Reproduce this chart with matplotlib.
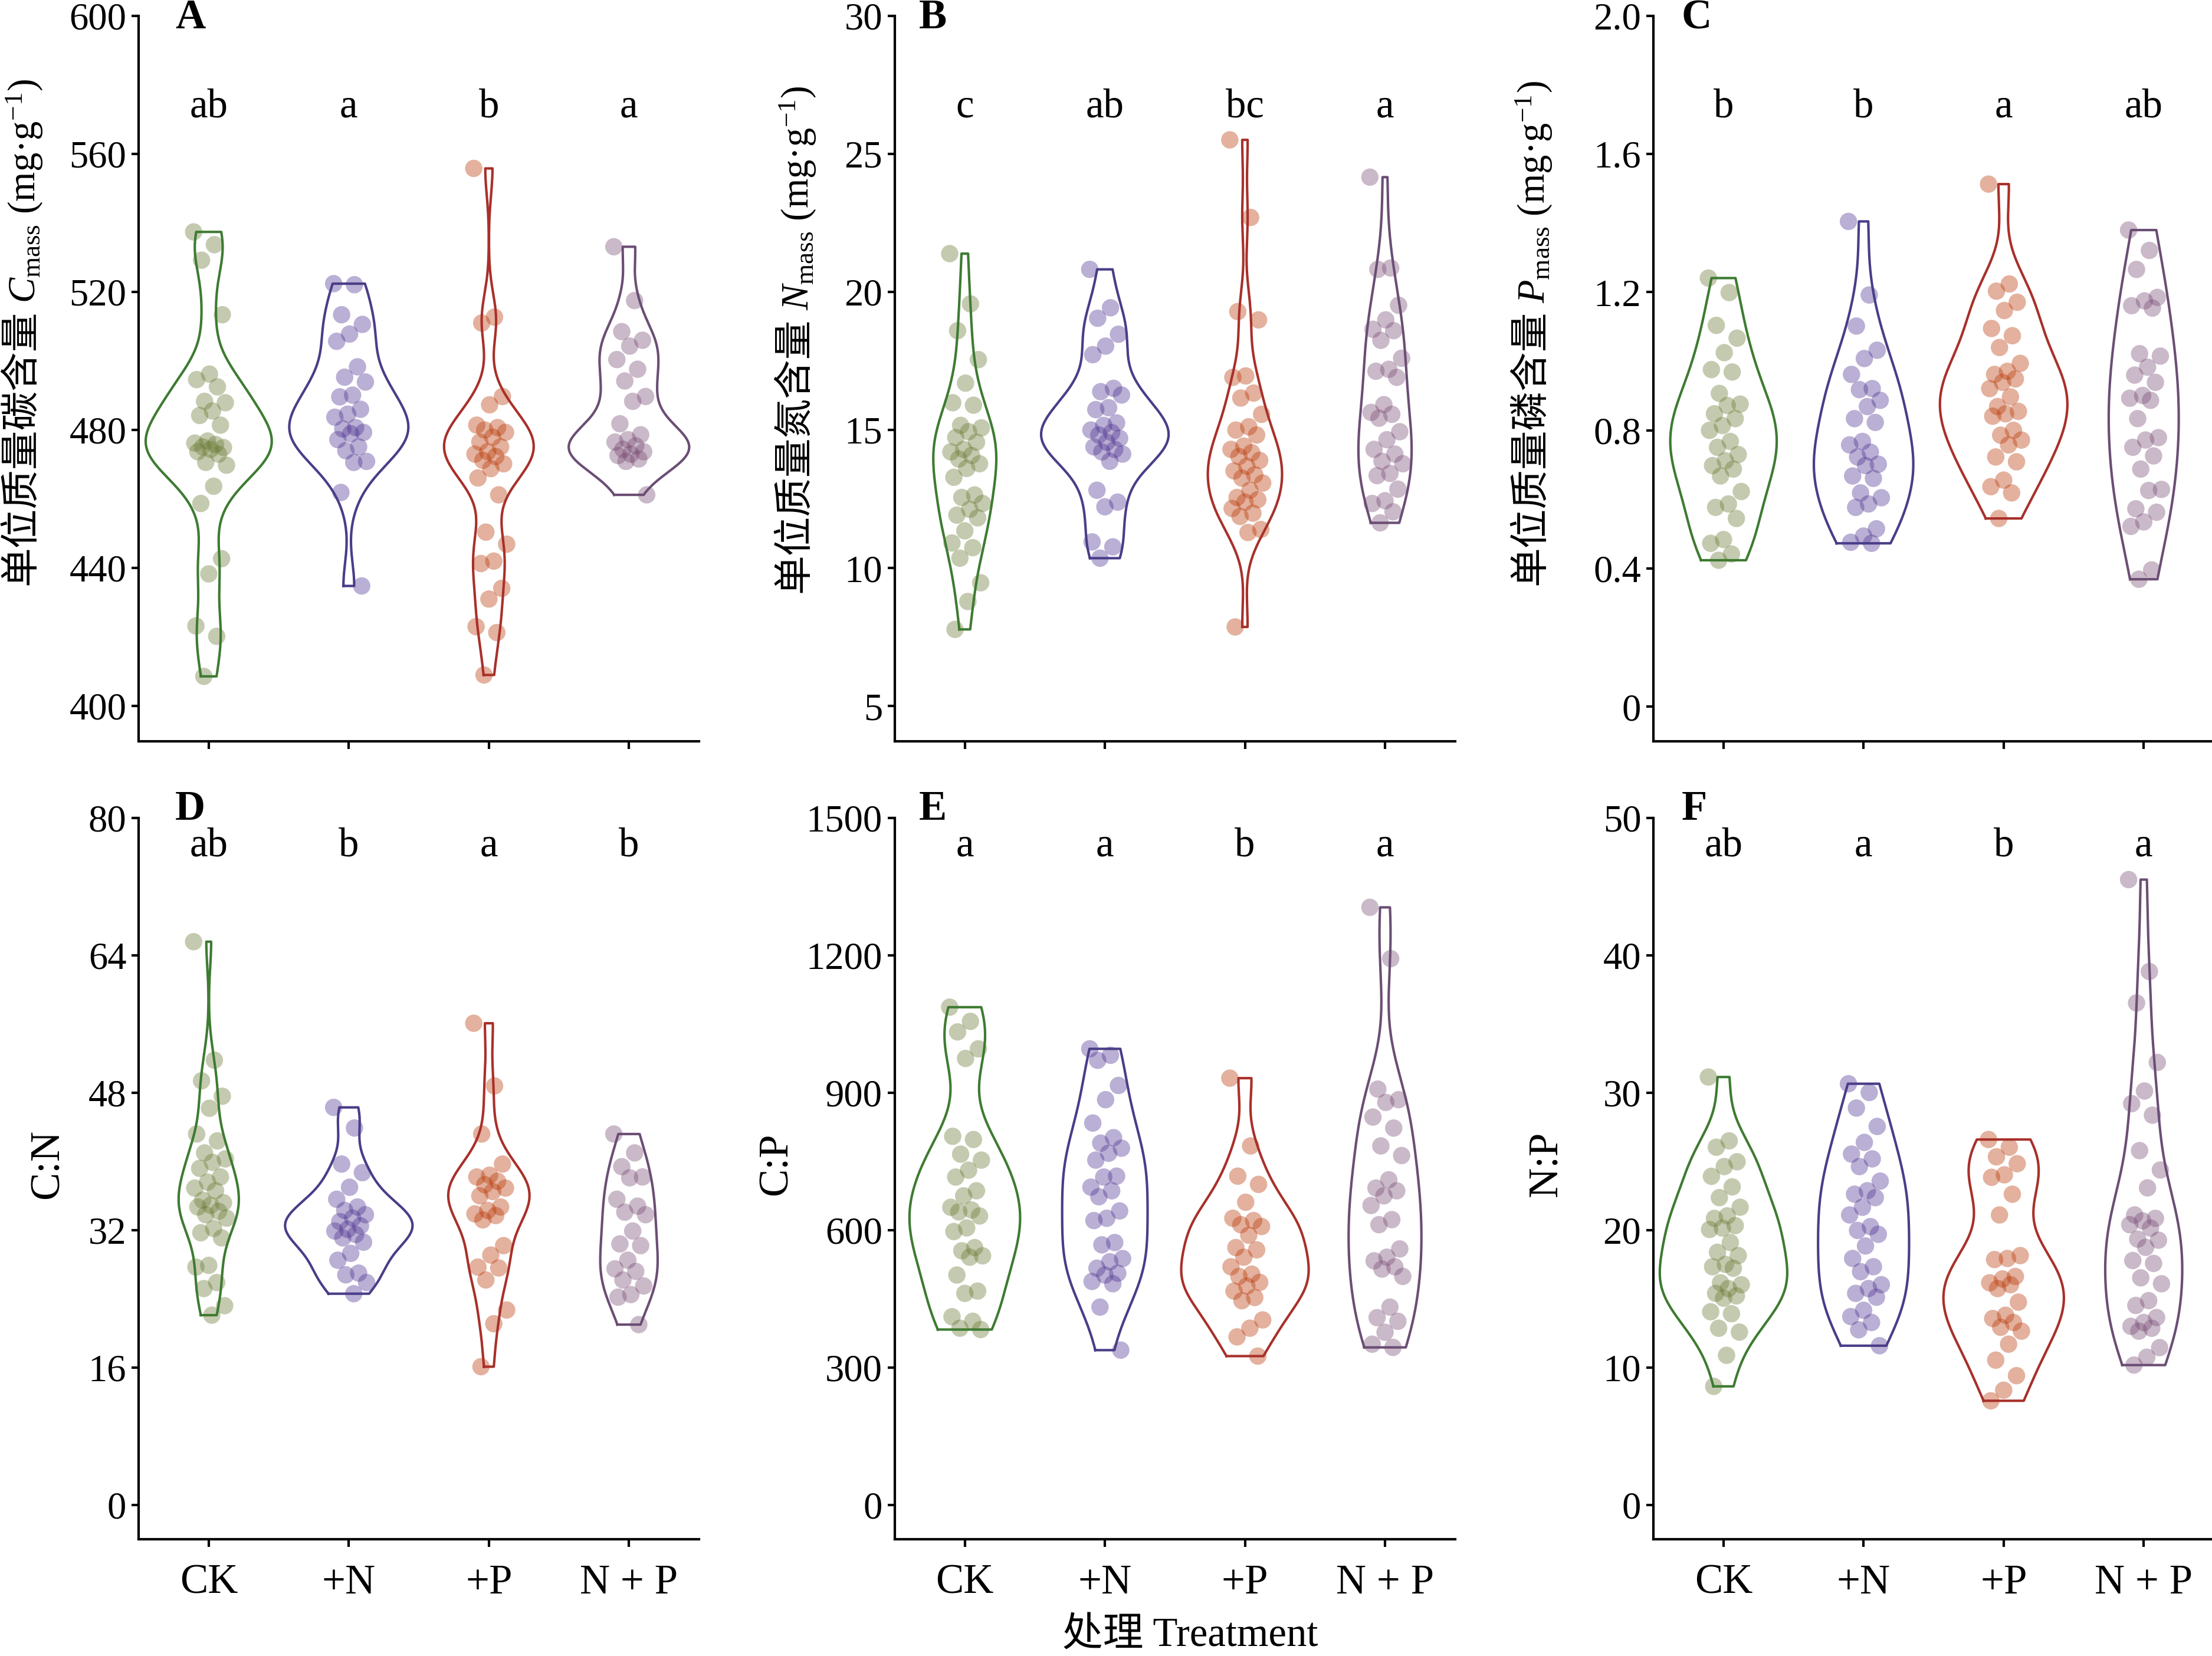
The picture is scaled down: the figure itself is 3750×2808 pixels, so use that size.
import numpy as np
import matplotlib
matplotlib.use("Agg")
import matplotlib.pyplot as plt

plt.rcParams['font.family'] = ['Liberation Serif', 'Noto Sans CJK SC']
plt.rcParams['mathtext.fontset'] = 'custom'
plt.rcParams['mathtext.rm'] = 'Liberation Serif'
plt.rcParams['mathtext.it'] = 'Liberation Serif:italic'
plt.rcParams['axes.linewidth'] = 1.0

treatments = ['CK', '+N', '+P', 'N + P']

# leaf C content (mg/g)
cmass_ck = [537.4, 533.7, 529.2, 513.4, 496.2, 494.6, 492.5, 488.3, 487.9, 485.5, 484.2, 481.4, 476.8, 476.2,
            475.8, 475.1, 474.9, 474.4, 473.7, 473.0, 470.6, 469.8, 463.7, 458.7, 442.7, 438.3, 423.2, 420.2, 408.6]
cmass_n = [522.4, 522.1, 513.4, 510.6, 507.8, 505.7, 498.3, 495.3, 493.9, 490.1, 489.6, 486.0, 484.6, 483.7,
           480.7, 480.3, 479.3, 478.9, 477.2, 475.1, 474.0, 470.9, 470.6, 461.9, 434.8]
cmass_p = [555.8, 512.7, 511.0, 489.7, 487.3, 481.4, 480.7, 480.0, 479.3, 477.9, 476.5, 475.1, 473.7, 473.0,
           472.3, 471.2, 470.2, 468.8, 466.1, 461.2, 450.4, 446.9, 442.0, 441.3, 434.1, 431.0, 423.0, 421.3, 409.0]
cmass_np = [533.1, 517.5, 508.5, 506.0, 504.3, 500.4, 497.6, 494.2, 489.7, 488.3, 481.8, 478.6, 477.2, 476.5,
            475.4, 474.4, 473.7, 473.0, 472.6, 471.6, 470.9, 461.2]

# leaf N content (mg/g)
nmass_ck = [21.39, 19.57, 18.60, 17.55, 16.70, 15.99, 15.90, 15.17, 15.08, 14.94, 14.73, 14.56, 14.30, 14.21,
            14.08, 13.95, 13.78, 13.61, 13.29, 12.65, 12.56, 12.34, 12.13, 11.92, 11.82, 11.35, 10.91, 10.74,
            10.36, 9.47, 8.79, 7.78]
nmass_n = [20.82, 19.43, 19.05, 18.47, 18.04, 17.73, 16.51, 16.39, 16.27, 15.81, 15.74, 15.26, 15.17, 15.00,
           14.91, 14.82, 14.70, 14.56, 14.39, 14.30, 14.21, 14.13, 13.87, 12.82, 12.39, 12.22, 10.95, 10.77, 10.36]
nmass_p = [25.51, 22.70, 19.29, 18.99, 16.96, 16.91, 16.34, 16.16, 15.57, 15.12, 15.00, 14.82, 14.42, 14.30,
           14.18, 14.04, 13.90, 13.69, 13.52, 13.38, 13.26, 13.08, 12.82, 12.56, 12.48, 12.39, 12.16, 11.99,
           11.87, 11.40, 11.29, 7.87]
nmass_np = [24.16, 20.87, 20.82, 19.52, 18.99, 18.65, 18.60, 18.25, 17.60, 17.20, 17.13, 16.91, 15.92, 15.64,
            15.57, 15.43, 14.94, 14.65, 14.30, 14.13, 13.87, 13.78, 13.43, 13.35, 12.86, 12.44, 12.34, 12.04, 11.64]

# leaf P content (mg/g)
pmass_ck = [1.241, 1.199, 1.104, 1.067, 1.025, 0.976, 0.969, 0.907, 0.876, 0.872, 0.848, 0.834, 0.814, 0.800,
            0.768, 0.751, 0.730, 0.712, 0.698, 0.688, 0.668, 0.623, 0.587, 0.577, 0.545, 0.484, 0.473, 0.442, 0.424]
pmass_n = [1.405, 1.192, 1.102, 1.032, 1.008, 0.962, 0.921, 0.918, 0.887, 0.869, 0.834, 0.823, 0.768, 0.758,
           0.737, 0.723, 0.702, 0.698, 0.668, 0.661, 0.619, 0.605, 0.587, 0.577, 0.515, 0.494, 0.476, 0.473]
pmass_p = [1.513, 1.224, 1.203, 1.171, 1.147, 1.095, 1.074, 1.040, 0.994, 0.971, 0.962, 0.949, 0.939, 0.921,
           0.897, 0.869, 0.855, 0.848, 0.841, 0.800, 0.786, 0.772, 0.758, 0.723, 0.709, 0.656, 0.637, 0.619, 0.545]
pmass_np = [1.380, 1.321, 1.266, 1.185, 1.175, 1.161, 1.154, 1.022, 1.015, 0.983, 0.960, 0.939, 0.901, 0.893,
            0.887, 0.834, 0.779, 0.772, 0.751, 0.726, 0.688, 0.629, 0.626, 0.573, 0.563, 0.535, 0.522, 0.396, 0.369]

# stoichiometric ratios
cn_ck = [65.6, 51.8, 49.4, 47.6, 46.2, 43.2, 42.4, 41.0, 40.3, 39.9, 39.2, 38.2, 37.6, 36.9, 36.6, 35.5, 35.2,
         34.9, 34.7, 34.2, 33.8, 33.4, 32.2, 31.7, 31.1, 27.9, 27.7, 25.9, 25.2, 23.2, 22.1]
cn_n = [46.3, 43.9, 39.7, 38.7, 37.0, 35.6, 34.7, 34.3, 33.8, 33.4, 33.0, 32.5, 32.1, 31.9, 31.5, 31.1, 30.6,
        29.3, 28.5, 27.0, 26.8, 25.9, 24.6]
cn_p = [56.1, 48.8, 43.2, 39.7, 38.4, 38.2, 37.7, 37.3, 36.9, 36.5, 36.0, 34.7, 34.3, 33.9, 33.7, 33.2, 30.2,
        29.1, 27.7, 27.6, 26.2, 22.7, 21.1, 16.1]
cn_np = [43.2, 41.0, 39.4, 38.2, 38.1, 35.6, 34.8, 34.1, 33.8, 31.9, 30.4, 30.2, 28.5, 27.5, 27.2, 26.2, 25.5,
         24.5, 24.2, 21.0]

cp_ck = [1087, 1056, 1033, 996, 975, 805, 798, 766, 753, 731, 716, 686, 675, 650, 644, 640, 631, 605, 597, 562,
         555, 544, 541, 502, 467, 462, 411, 401, 386, 383]
cp_n = [996, 982, 971, 916, 885, 834, 802, 790, 779, 768, 753, 718, 716, 694, 686, 673, 642, 626, 621, 573, 568,
        538, 531, 517, 506, 502, 488, 483, 432, 338]
cp_p = [932, 784, 718, 700, 661, 626, 621, 612, 608, 589, 562, 557, 541, 520, 504, 499, 486, 478, 467, 453, 446,
        404, 386, 367, 325]
cp_np = [1305, 1193, 908, 885, 879, 847, 823, 784, 763, 710, 692, 686, 675, 654, 623, 612, 559, 541, 533, 520,
         515, 499, 432, 409, 401, 377, 351, 344]

np_ck = [31.15, 26.50, 26.04, 24.98, 24.63, 23.92, 23.15, 22.37, 21.67, 21.04, 20.86, 20.33, 20.15, 20.05, 19.10,
         18.39, 18.15, 17.51, 17.34, 17.23, 16.17, 16.03, 15.75, 15.40, 15.22, 15.05, 14.06, 13.92, 12.86, 12.58,
         10.89, 8.63]
np_n = [30.66, 30.02, 28.89, 27.55, 26.39, 25.54, 25.19, 24.63, 23.57, 22.87, 22.62, 22.37, 21.67, 21.11, 20.26,
        19.98, 19.70, 18.85, 17.94, 17.34, 16.98, 16.03, 15.75, 15.40, 15.12, 14.17, 13.71, 13.28, 12.75, 11.59]
np_p = [26.60, 26.04, 25.34, 24.84, 24.03, 23.85, 22.62, 21.11, 18.15, 17.94, 17.86, 16.63, 16.45, 16.17, 16.03,
        15.75, 14.76, 13.81, 13.57, 13.28, 12.93, 12.65, 11.70, 10.54, 9.41, 8.35, 7.58]
np_np = [45.52, 38.83, 36.54, 32.21, 30.13, 29.21, 28.37, 25.79, 24.38, 23.08, 21.11, 20.86, 20.68, 20.40, 20.15,
         19.35, 19.27, 18.75, 17.79, 17.58, 16.53, 16.10, 14.87, 14.52, 13.64, 13.28, 13.00, 12.86, 12.65, 11.45,
         10.75, 10.18]

# multiple comparison letters
letters_c = ['ab', 'a', 'b', 'a']
letters_n = ['c', 'ab', 'bc', 'a']
letters_p = ['b', 'b', 'a', 'ab']
letters_cn = ['ab', 'b', 'a', 'b']
letters_cp = ['a', 'a', 'b', 'a']
letters_np = ['ab', 'a', 'b', 'a']

line_colors = ['#3e7b32', '#4a3d88', '#a8302a', '#6b4e74']
dot_colors = ['#66762f', '#4a2e8e', '#b73300', '#764771']


def kde_outline(vals, n_grid=200):
    vals = np.asarray(vals, dtype=float)
    sig = np.median(np.abs(vals - np.median(vals))) / 0.6745
    bw = 0.85 * sig * (4.0 / (3.0 * len(vals))) ** 0.2
    grid = np.linspace(vals.min(), vals.max(), n_grid)
    dens = np.exp(-0.5 * ((grid[:, None] - vals[None, :]) / bw) ** 2).sum(axis=1)
    return grid, dens / dens.max()


def draw_panel(ax, groups, letters, widths, ylim, yticks, yticklabels, tag, tag_x, tag_y, letter_y,
               show_xlabels):
    for i, g in enumerate(groups):
        grid, dens = kde_outline(g)
        half = widths[i] * dens
        xs = np.concatenate([i - half, (i + half)[::-1], [i - half[0]]])
        ys = np.concatenate([grid, grid[::-1], [grid[0]]])
        k = np.arange(len(g))
        jit = ((k * 0.6180339887) % 1.0 - 0.45) * 0.24
        ax.scatter(i + jit, g, s=50, color=dot_colors[i], alpha=0.38, edgecolors='none', zorder=2)
        ax.plot(xs, ys, color=line_colors[i], lw=1.0, zorder=3)
        ax.text(i, ylim[0] + letter_y * (ylim[1] - ylim[0]), letters[i], ha='center', va='center', fontsize=16.5)

    ax.set_xlim(-0.5, 3.5)
    ax.set_ylim(*ylim)
    ax.set_yticks(yticks)
    ax.set_yticklabels(yticklabels)
    ax.set_xticks(range(4))
    if show_xlabels:
        ax.set_xticklabels(treatments, fontsize=17)
    else:
        ax.set_xticklabels([])
    ax.spines['top'].set_visible(False)
    ax.spines['right'].set_visible(False)
    ax.tick_params(axis='both', direction='out', length=3, width=1.0)
    ax.tick_params(axis='y', pad=2, labelsize=15.5)
    ax.tick_params(axis='x', pad=7)
    ax.text(tag_x, tag_y, tag, transform=ax.transAxes, ha='left', va='center', fontsize=17, fontweight='bold')


def mixed_ylabel(ax, cjk, latin, x, y0):
    # CJK part needs its own font, the mathtext part is chained right after it
    t1 = ax.text(x, y0, cjk, transform=ax.transAxes, rotation=90, ha='center', va='bottom',
                 fontsize=16, family=['Noto Sans CJK SC'])
    ax.annotate(latin, xy=(0.5, 1.0), xycoords=t1, xytext=(1.5, 3), textcoords='offset points',
                rotation=90, ha='center', va='bottom', fontsize=15.5)


fig = plt.figure(figsize=(12.5, 9.36), dpi=300)

lefts = [0.0627, 0.4045, 0.7475]
w = 0.2533
top_y, top_h = 0.5524, 0.438
bot_y, bot_h = 0.0705, 0.4355

axA = fig.add_axes([lefts[0], top_y, w, top_h])
axB = fig.add_axes([lefts[1], top_y, w, top_h])
axC = fig.add_axes([lefts[2], top_y, w, top_h])
axD = fig.add_axes([lefts[0], bot_y, w, bot_h])
axE = fig.add_axes([lefts[1], bot_y, w, bot_h])
axF = fig.add_axes([lefts[2], bot_y, w, bot_h])

draw_panel(axA, [cmass_ck, cmass_n, cmass_p, cmass_np], letters_c, [0.45, 0.425, 0.32, 0.43],
           (389.8, 600), [400, 440, 480, 520, 560, 600], ['400', '440', '480', '520', '560', '600'],
           'A', 0.065, 0.997, 0.874, False)
draw_panel(axB, [nmass_ck, nmass_n, nmass_p, nmass_np], letters_n, [0.225, 0.455, 0.265, 0.19],
           (3.73, 30), [5, 10, 15, 20, 25, 30], ['5', '10', '15', '20', '25', '30'],
           'B', 0.043, 0.997, 0.874, False)
draw_panel(axC, [pmass_ck, pmass_n, pmass_p, pmass_np], letters_p, [0.38, 0.355, 0.455, 0.25],
           (-0.1, 2.0), [0, 0.4, 0.8, 1.2, 1.6, 2.0], ['0', '0.4', '0.8', '1.2', '1.6', '2.0'],
           'C', 0.05, 0.997, 0.874, False)
draw_panel(axD, [cn_ck, cn_n, cn_p, cn_np], letters_cn, [0.215, 0.455, 0.29, 0.205],
           (-4, 80), [0, 16, 32, 48, 64, 80], ['0', '16', '32', '48', '64', '80'],
           'D', 0.065, 1.012, 0.961, True)
draw_panel(axE, [cp_ck, cp_n, cp_p, cp_np], letters_cp, [0.395, 0.305, 0.455, 0.26],
           (-75, 1500), [0, 300, 600, 900, 1200, 1500], ['0', '300', '600', '900', '1200', '1500'],
           'E', 0.043, 1.012, 0.961, True)
draw_panel(axF, [np_ck, np_n, np_p, np_np], letters_np, [0.455, 0.325, 0.43, 0.275],
           (-2.5, 50), [0, 10, 20, 30, 40, 50], ['0', '10', '20', '30', '40', '50'],
           'F', 0.05, 1.012, 0.961, True)

mixed_ylabel(axA, '单位质量碳含量', '$C_{\\mathrm{mass}}$ (mg·g$^{-1}$)', -0.21, 0.215)
mixed_ylabel(axB, '单位质量氮含量', '$N_{\\mathrm{mass}}$ (mg·g$^{-1}$)', -0.18, 0.205)
mixed_ylabel(axC, '单位质量磷含量', '$P_{\\mathrm{mass}}$ (mg·g$^{-1}$)', -0.22, 0.215)

for ax, lab, lx in [(axD, 'C:N', -0.128), (axE, 'C:P', -0.177), (axF, 'N:P', -0.158)]:
    ax.set_ylabel(lab, fontsize=17)
    ax.yaxis.set_label_coords(lx, 0.52)

fig.text(lefts[1] + w / 2 + 0.007, 0.012, '处理 Treatment', ha='center', va='center', fontsize=16.5)

fig.savefig('out.png', dpi=300)
